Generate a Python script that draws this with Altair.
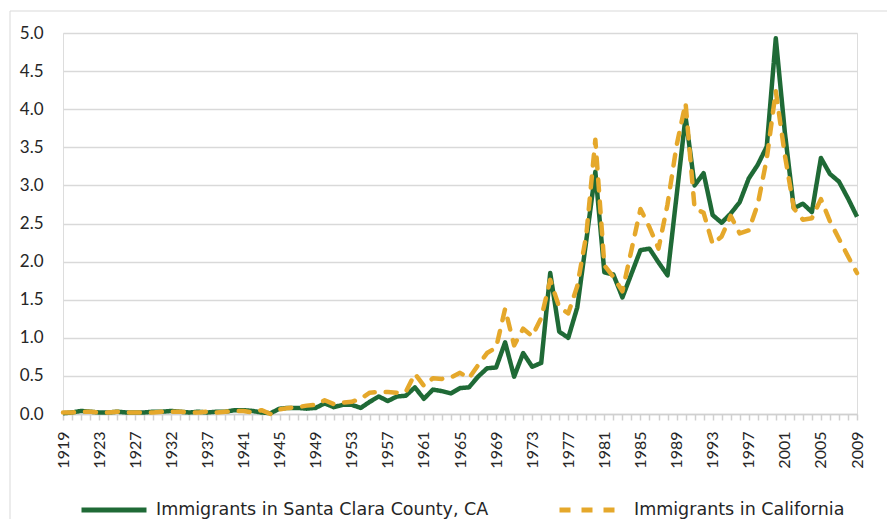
import altair as alt
import pandas as pd

# Categories (two years absent in the source series)
years = [str(y) for y in range(1919, 2010) if y not in (1930, 1935)]
label_years = ["1919", "1923", "1927", "1932", "1937", "1941", "1945", "1949",
               "1953", "1957", "1961", "1965", "1969", "1973", "1977", "1981",
               "1985", "1989", "1993", "1997", "2001", "2005", "2009"]

santa_clara = [
    0.01, 0.02, 0.04, 0.03, 0.02, 0.02, 0.03, 0.02,
    0.02, 0.02, 0.03, 0.03,
    0.04, 0.03, 0.02, 0.03,
    0.02, 0.03, 0.03, 0.05,
    0.05, 0.04, 0.02, 0.01,
    0.07, 0.08, 0.08, 0.07, 0.08,
    0.14, 0.09, 0.12, 0.12, 0.08,
    0.16, 0.23, 0.17, 0.23, 0.24,
    0.35, 0.20, 0.32, 0.30, 0.27,
    0.34, 0.35, 0.49, 0.60, 0.61,
    0.94, 0.49, 0.80, 0.62, 0.67,
    1.85, 1.08, 1.00, 1.40, 2.28,
    3.18, 1.86, 1.83, 1.53, 1.84,
    2.15, 2.17, 1.99, 1.82, 2.86,
    3.90, 3.00, 3.16, 2.61, 2.51,
    2.63, 2.78, 3.09, 3.27, 3.51,
    4.93, 3.70, 2.70, 2.76, 2.65,
    3.36, 3.15, 3.05, 2.83, 2.59,
]

california = [
    0.02, 0.02, 0.03, 0.03, 0.02, 0.02, 0.03, 0.02,
    0.02, 0.02, 0.02, 0.03,
    0.03, 0.03, 0.02, 0.02,
    0.03, 0.02, 0.03, 0.04,
    0.04, 0.02, 0.05, 0.00,
    0.06, 0.08, 0.09, 0.11, 0.12,
    0.18, 0.13, 0.15, 0.16, 0.20,
    0.28, 0.29, 0.29, 0.28, 0.29,
    0.53, 0.37, 0.47, 0.46, 0.48,
    0.54, 0.47, 0.64, 0.80, 0.87,
    1.38, 0.90, 1.12, 1.02, 1.26,
    1.76, 1.40, 1.32, 1.68, 2.35,
    3.60, 1.95, 1.80, 1.61, 2.15,
    2.69, 2.45, 2.17, 2.75, 3.52,
    4.08, 2.70, 2.64, 2.23, 2.33,
    2.60, 2.37, 2.41, 2.75, 3.35,
    4.24, 3.40, 2.70, 2.55, 2.57,
    2.82, 2.53, 2.30, 2.07, 1.85,
]

series_names = ["Immigrants in Santa Clara County, CA", "Immigrants in California"]
series_colors = ["#1f6a36", "#e5a82b"]

df = pd.DataFrame(
    [{"year": y, "value": v, "series": series_names[0]} for y, v in zip(years, santa_clara)]
    + [{"year": y, "value": v, "series": series_names[1]} for y, v in zip(years, california)]
)

FONT = "Lato"
lab_list = ",".join("'" + y + "'" for y in label_years)

x_enc = alt.X(
    "year:O",
    sort=years,
    scale=alt.Scale(type="point", padding=0),
    axis=alt.Axis(
        title=None,
        labelAngle=-90,
        labelExpr="indexof([" + lab_list + "], datum.value) >= 0 ? datum.label : ''",
        labelOverlap=False,
        labelFontSize=16,
        labelFont=FONT,
        labelColor="#262626",
        labelPadding=11,
        tickSize=6,
        tickColor="#d0d0d0",
        tickWidth=1.5,
        domainColor="#d0d0d0",
        domainWidth=1.5,
        grid=False,
    ),
)

y_enc = alt.Y(
    "value:Q",
    scale=alt.Scale(domain=[0, 5], nice=False),
    axis=alt.Axis(
        title=None,
        values=[0, 0.5, 1, 1.5, 2, 2.5, 3, 3.5, 4, 4.5, 5],
        format=".1f",
        ticks=False,
        tickSize=0,
        domain=False,
        labelPadding=20,
        labelFontSize=17,
        labelFont=FONT,
        labelColor="#262626",
        gridColor="#d9d9d9",
        gridWidth=1.5,
    ),
)

color_enc = alt.Color(
    "series:N",
    scale=alt.Scale(domain=series_names, range=series_colors),
    legend=alt.Legend(
        title=None,
        orient="none",
        legendX=16,
        legendY=442,
        direction="horizontal",
        symbolType="stroke",
        symbolSize=4225,
        symbolStrokeWidth=5,
        labelFontSize=17.5,
        labelFont="DejaVu Sans",
        labelColor="#262626",
        labelOffset=7,
        labelLimit=500,
        columnPadding=60,
        padding=0,
    ),
)

dash_enc = alt.StrokeDash(
    "series:N",
    scale=alt.Scale(domain=series_names, range=[[1, 0], [11, 11]]),
    legend=None,
)

base = alt.Chart(df).encode(x=x_enc, y=y_enc, color=color_enc, strokeDash=dash_enc)

green = base.transform_filter(alt.datum.series == series_names[0]).mark_line(
    strokeWidth=4.5, strokeJoin="round"
)
yellow = base.transform_filter(alt.datum.series == series_names[1]).mark_line(
    strokeWidth=4.5, strokeCap="round", strokeJoin="round"
)

frame = alt.Chart(pd.DataFrame({"a": [0]})).mark_rect(
    fill=None, stroke="#d9d9d9", strokeWidth=1
).encode(
    x=alt.value(-53), x2=alt.value(900), y=alt.value(-22), y2=alt.value(700)
)

chart = alt.layer(frame, green, yellow).properties(
    width=794,
    height=381,
    autosize=alt.AutoSizeParams(type="none"),
    padding={"left": 55, "top": 25, "right": 30, "bottom": 105},
).configure_view(stroke=None).configure(background="white")

chart.save("out.html", embed_options={"renderer": "svg", "actions": False})
